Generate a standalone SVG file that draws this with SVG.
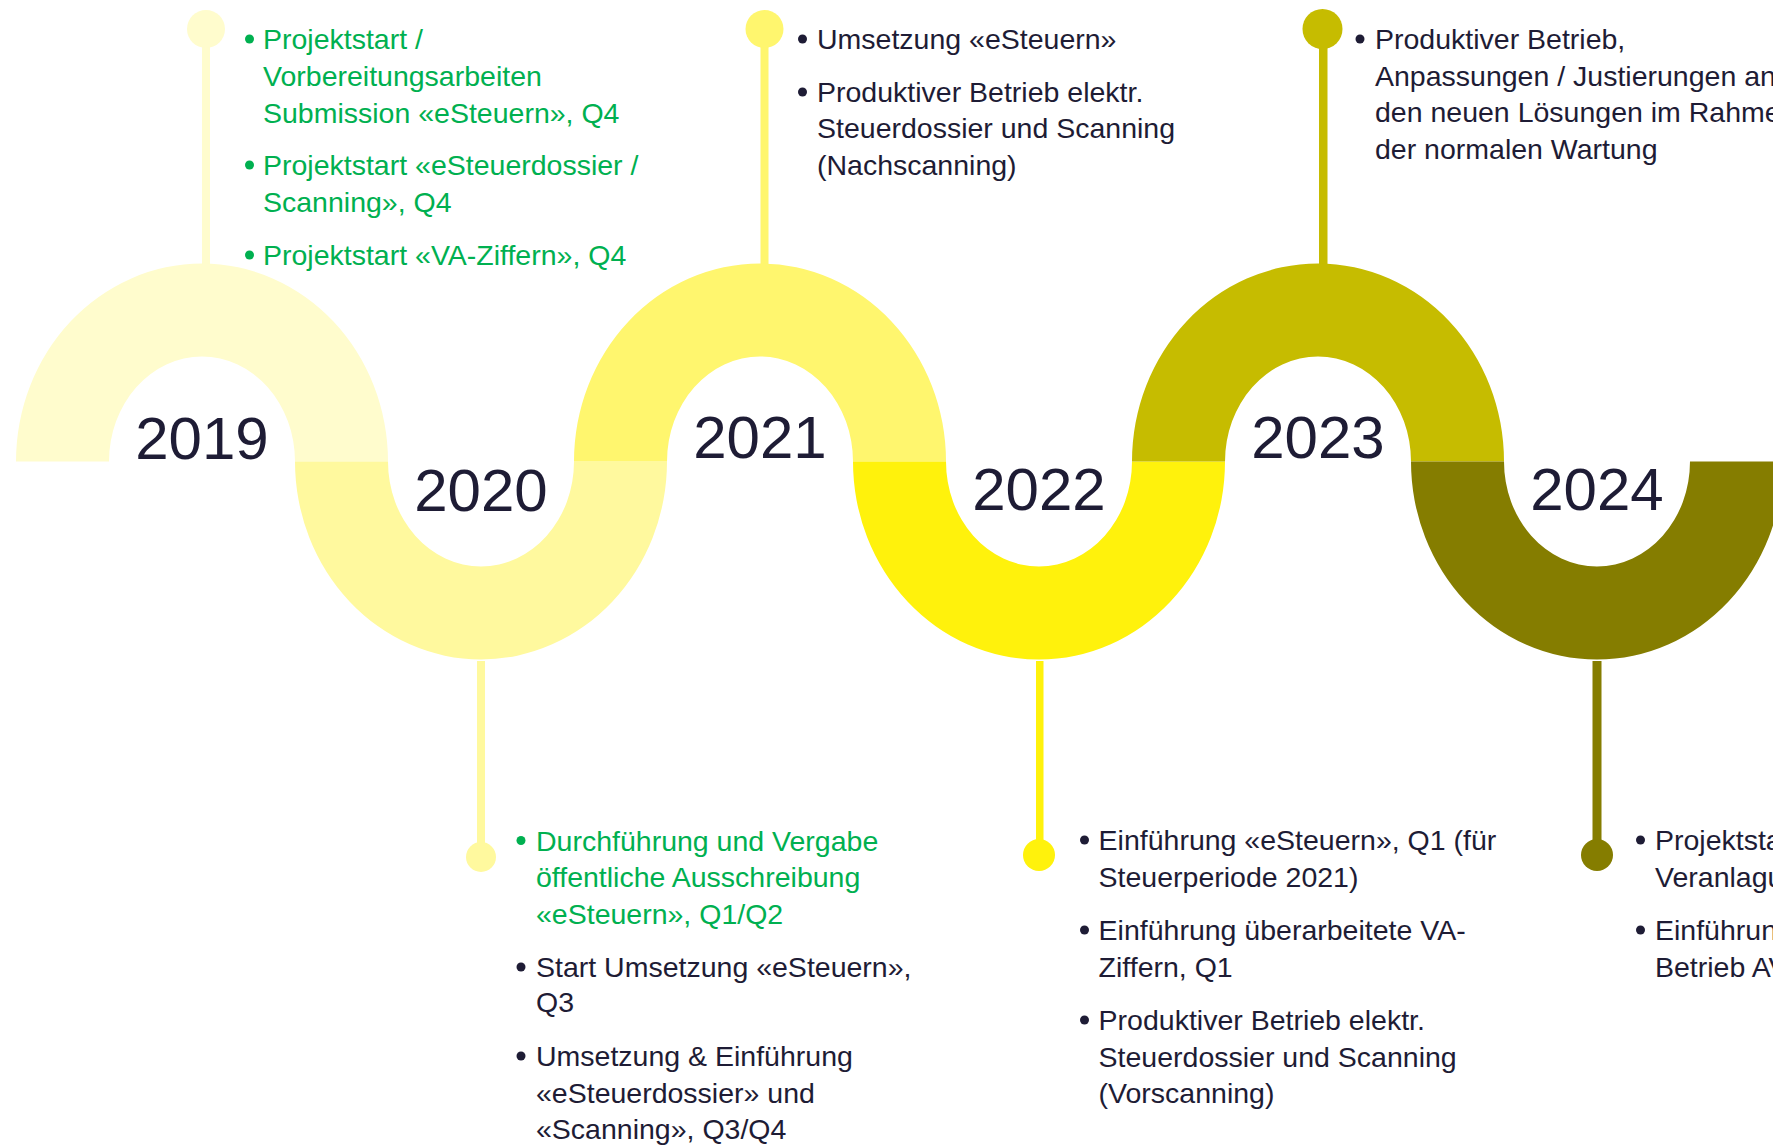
<svg xmlns="http://www.w3.org/2000/svg" width="1773" height="1145" viewBox="0 0 1773 1145">
<style>
.t{font-family:"Liberation Sans",Arial,sans-serif;font-size:28.5px;fill:#1E1C35}
.g{fill:#00B050}
.y{font-family:"Liberation Sans",Arial,sans-serif;font-size:60px;fill:#1E1C35;text-anchor:middle}
.c1{fill:#FFFCCD}.c2{fill:#FFF99E}.c3{fill:#FFF66E}.c4{fill:#FFF20C}.c5{fill:#C6BC00}.c6{fill:#857D00}
</style>
<rect width="1773" height="1145" fill="#FFFFFF"/>
<g id="connectors">
<rect class="c1" x="202" y="40" width="8" height="226"/>
<rect class="c3" x="760.5" y="40" width="8" height="226"/>
<rect class="c5" x="1319" y="40" width="8.5" height="226"/>
<rect class="c2" x="477" y="661" width="8" height="190"/>
<rect class="c4" x="1036" y="661" width="7.5" height="190"/>
<rect class="c6" x="1592.5" y="661" width="9" height="190"/>
</g>
<g id="y2019">
<path class="c1" d="M16,461.5 A186,198 0 0 1 388,461.5 L295,461.5 A93,105 0 0 0 109,461.5 Z"/>
<circle class="c1" cx="206" cy="29" r="19"/>
<text class="y" x="202" y="459">2019</text>
</g>
<g id="y2020">
<path class="c2" d="M295,461.5 A186,198 0 0 0 667,461.5 L574,461.5 A93,105 0 0 1 388,461.5 Z"/>
<circle class="c2" cx="481" cy="857" r="15"/>
<text class="y" x="481" y="511">2020</text>
</g>
<g id="y2021">
<path class="c3" d="M574,461.5 A186,198 0 0 1 946,461.5 L853,461.5 A93,105 0 0 0 667,461.5 Z"/>
<circle class="c3" cx="764.5" cy="29" r="19"/>
<text class="y" x="760" y="458">2021</text>
</g>
<g id="y2022">
<path class="c4" d="M853,461.5 A186,198 0 0 0 1225,461.5 L1132,461.5 A93,105 0 0 1 946,461.5 Z"/>
<circle class="c4" cx="1039" cy="855" r="16"/>
<text class="y" x="1039" y="510">2022</text>
</g>
<g id="y2023">
<path class="c5" d="M1132,461.5 A186,198 0 0 1 1504,461.5 L1411,461.5 A93,105 0 0 0 1225,461.5 Z"/>
<circle class="c5" cx="1322.5" cy="29" r="20"/>
<text class="y" x="1318" y="458">2023</text>
</g>
<g id="y2024">
<path class="c6" d="M1411,461.5 A186,198 0 0 0 1783,461.5 L1690,461.5 A93,105 0 0 1 1504,461.5 Z"/>
<circle class="c6" cx="1597" cy="855" r="16"/>
<text class="y" x="1597" y="510">2024</text>
</g>
<g id="text2019" class="t g">
<circle class="g" cx="249.5" cy="39" r="4.5"/>
<circle class="g" cx="249.5" cy="165" r="4.5"/>
<circle class="g" cx="249.5" cy="255" r="4.5"/>
<text class="t g" x="263" y="49">Projektstart /</text>
<text class="t g" x="263" y="86">Vorbereitungsarbeiten</text>
<text class="t g" x="263" y="122.7">Submission «eSteuern», Q4</text>
<text class="t g" x="263" y="175">Projektstart «eSteuerdossier /</text>
<text class="t g" x="263" y="211.7">Scanning», Q4</text>
<text class="t g" x="263" y="265">Projektstart «VA-Ziffern», Q4</text>
</g>
<g id="text2021">
<circle fill="#1E1C35" cx="802.5" cy="39" r="4.5"/>
<circle fill="#1E1C35" cx="802.5" cy="92" r="4.5"/>
<text class="t" x="817" y="49">Umsetzung «eSteuern»</text>
<text class="t" x="817" y="101.7">Produktiver Betrieb elektr.</text>
<text class="t" x="817" y="138.4">Steuerdossier und Scanning</text>
<text class="t" x="817" y="175">(Nachscanning)</text>
</g>
<g id="text2023">
<circle fill="#1E1C35" cx="1360" cy="39" r="4.5"/>
<text class="t" x="1375" y="49">Produktiver Betrieb,</text>
<text class="t" x="1375" y="85.5">Anpassungen / Justierungen an</text>
<text class="t" x="1375" y="122">den neuen Lösungen im Rahmen</text>
<text class="t" x="1375" y="158.5">der normalen Wartung</text>
</g>
<g id="text2020">
<circle class="g" cx="521" cy="840.5" r="4.5"/>
<circle fill="#1E1C35" cx="521" cy="967" r="4.5"/>
<circle fill="#1E1C35" cx="521" cy="1056" r="4.5"/>
<text class="t g" x="536" y="850.7">Durchführung und Vergabe</text>
<text class="t g" x="536" y="887.3">öffentliche Ausschreibung</text>
<text class="t g" x="536" y="924">«eSteuern», Q1/Q2</text>
<text class="t" x="536" y="976.7">Start Umsetzung «eSteuern»,</text>
<text class="t" x="536" y="1012.3">Q3</text>
<text class="t" x="536" y="1066">Umsetzung &amp; Einführung</text>
<text class="t" x="536" y="1102.7">«eSteuerdossier» und</text>
<text class="t" x="536" y="1139.3">«Scanning», Q3/Q4</text>
</g>
<g id="text2022">
<circle fill="#1E1C35" cx="1084.5" cy="840" r="4.5"/>
<circle fill="#1E1C35" cx="1084.5" cy="930" r="4.5"/>
<circle fill="#1E1C35" cx="1084.5" cy="1020" r="4.5"/>
<text class="t" x="1098.6" y="850">Einführung «eSteuern», Q1 (für</text>
<text class="t" x="1098.6" y="886.7">Steuerperiode 2021)</text>
<text class="t" x="1098.6" y="940">Einführung überarbeitete VA-</text>
<text class="t" x="1098.6" y="976.7">Ziffern, Q1</text>
<text class="t" x="1098.6" y="1030">Produktiver Betrieb elektr.</text>
<text class="t" x="1098.6" y="1066.7">Steuerdossier und Scanning</text>
<text class="t" x="1098.6" y="1102.7">(Vorscanning)</text>
</g>
<g id="text2024">
<circle fill="#1E1C35" cx="1640.5" cy="840" r="4.5"/>
<circle fill="#1E1C35" cx="1640.5" cy="930" r="4.5"/>
<text class="t" x="1655" y="850">Projektstart</text>
<text class="t" x="1655" y="886.7">Veranlagung</text>
<text class="t" x="1655" y="940">Einführung</text>
<text class="t" x="1655" y="976.7">Betrieb AV</text>
</g>
</svg>
